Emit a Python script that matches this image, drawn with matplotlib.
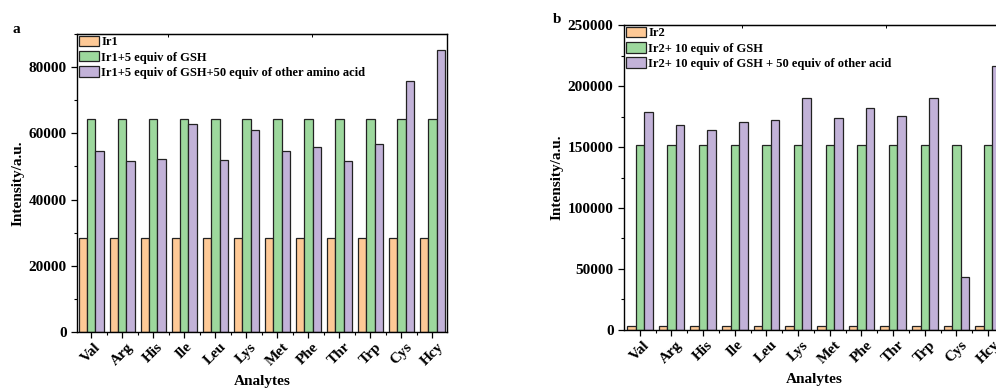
import matplotlib
matplotlib.use("Agg")
import matplotlib.pyplot as plt
import numpy as np

analytes = ["Val", "Arg", "His", "Ile", "Leu", "Lys", "Met", "Phe", "Thr", "Trp", "Cys", "Hcy"]

# panel a (Ir1)
ir1 = [28500] * 12
ir1_gsh = [64300] * 12
ir1_gsh_aa = [54700, 51700, 52200, 62900, 51900, 60950, 54700, 55900, 51700, 56700, 75800, 85300]

# panel b (Ir2)
ir2 = [3200] * 12
ir2_gsh = [151400] * 12
ir2_gsh_aa = [178700, 167800, 163700, 170200, 172400, 189900, 173500, 181700, 175100, 190400, 43700, 216100]

labels_a = ["Ir1", "Ir1+5 equiv of GSH", "Ir1+5 equiv of GSH+50 equiv of other amino acid"]
labels_b = ["Ir2", "Ir2+ 10 equiv of GSH", "Ir2+ 10 equiv of GSH + 50 equiv of other acid"]

colors = ["#fec996", "#9dd89d", "#c2b2d8"]

plt.rcParams["font.family"] = ["Liberation Serif", "DejaVu Serif"]
plt.rcParams["font.weight"] = "bold"
plt.rcParams["axes.labelweight"] = "bold"

fig = plt.figure(figsize=(9.96, 3.89), dpi=100)
ax_a = fig.add_axes([0.0773, 0.1465, 0.3715, 0.7661])
ax_b = fig.add_axes([0.6265, 0.1517, 0.3815, 0.784])

w = 0.27


def draw(ax, series, labels, ylim, yticks, xlim, top_ticks):
    x = np.arange(len(analytes))
    for i, (vals, lab) in enumerate(zip(series, labels)):
        ax.bar(x + (i - 1) * w, vals, w, color=colors[i], edgecolor="#222222",
               linewidth=0.9, label=lab)
    ax.set_xlim(*xlim)
    ax.set_ylim(*ylim)
    ax.set_yticks(yticks)
    ax.set_yticks(np.arange(yticks[0], ylim[1] + 1, (yticks[1] - yticks[0]) / 2), minor=True)
    ax.set_xticks(x)
    ax.set_xticks(x[:-1] + 0.5, minor=True)
    ax.set_xticklabels(analytes, rotation=45, ha="center", fontsize=11, fontweight="bold")
    ax.tick_params(axis="y", labelsize=11, length=4, width=0.9)
    ax.tick_params(axis="x", length=4, width=0.9, pad=2)
    ax.tick_params(which="minor", length=2.5, width=0.8)
    for sp in ax.spines.values():
        sp.set_linewidth(1.0)
    ax.set_xlabel("Analytes", fontsize=11, labelpad=5)
    ax.set_ylabel("Intensity/a.u.", fontsize=11, labelpad=3)
    sec = ax.secondary_xaxis("top")
    sec.set_xticks(top_ticks)
    sec.set_xticklabels([])
    sec.tick_params(direction="in", length=2.5, width=0.7)
    ax.legend(loc="upper left", frameon=False, handlelength=1.6,
              handleheight=0.9, handletextpad=0.2, labelspacing=0.22,
              borderaxespad=0.0, borderpad=0.15, prop={"weight": "bold", "size": 9})


draw(ax_a, [ir1, ir1_gsh, ir1_gsh_aa], labels_a, (0, 90000),
     [0, 20000, 40000, 60000, 80000], (-0.46, 11.47), [2.47, 7.12])
draw(ax_b, [ir2, ir2_gsh, ir2_gsh_aa], labels_b, (0, 250000),
     [0, 50000, 100000, 150000, 200000, 250000], (-0.5, 11.5), [3.22, 7.76])

fig.text(0.013, 0.915, "a", fontsize=11, fontweight="bold")
fig.text(0.555, 0.94, "b", fontsize=11, fontweight="bold")

fig.savefig("out.png", dpi=100)
